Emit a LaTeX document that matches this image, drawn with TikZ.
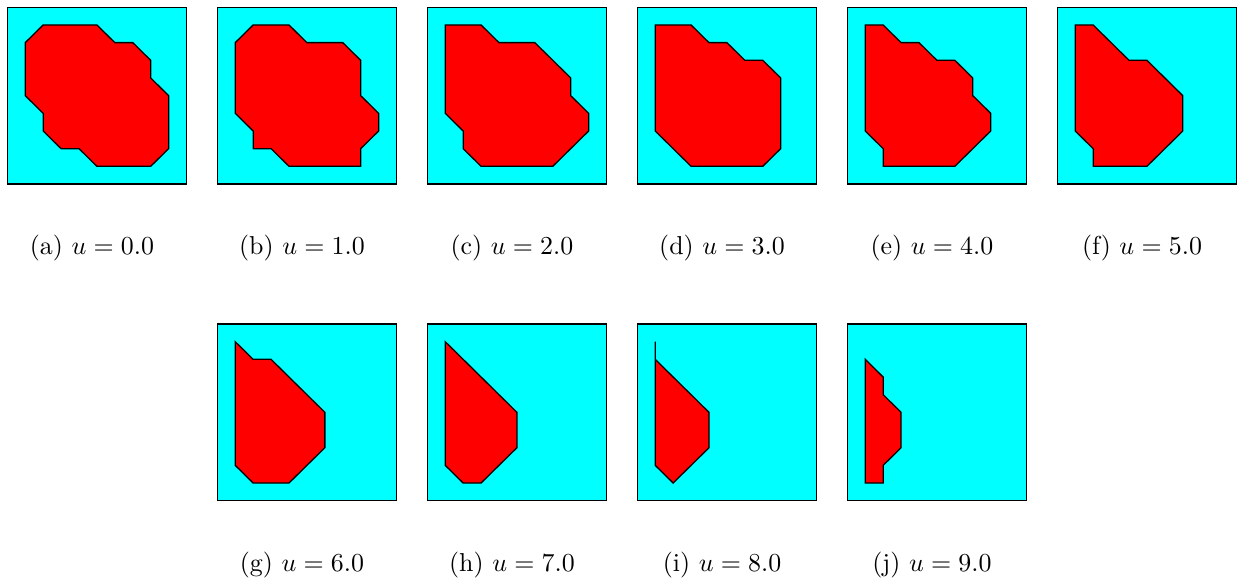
\documentclass[tikz,border=0pt]{standalone}
\usepackage{tikz}
\usetikzlibrary{positioning}
\definecolor{fluidcyan}{RGB}{0,255,255}
\definecolor{solidred}{RGB}{255,0,0}

\begin{document}
\begin{tikzpicture}[
  x=0.386pt, y=-0.386pt,
  domainbox/.style={draw=black, fill=fluidcyan, line width=0.5pt},
  region/.style={draw=black, fill=solidred, line width=0.5pt, line join=miter},
  grid/.style={x=6.92pt, y=-6.82pt},
  caplabel/.style={anchor=base, inner sep=0pt}
]
\useasboundingbox (0,0) rectangle (1241,585);

% first row
\begin{scope}[shift={(7.3,7.3)}, grid]
  \draw[domainbox] (0,0) rectangle (10,10);
  \draw[region] (2,1) -- (5,1) -- (6,2) -- (7,2) -- (8,3) -- (8,4) -- (9,5) -- (9,8)
    -- (8,9) -- (5,9) -- (4,8) -- (3,8) -- (2,7) -- (2,6) -- (1,5) -- (1,2) -- cycle;
\end{scope}
\begin{scope}[shift={(217.3,7.3)}, grid]
  \draw[domainbox] (0,0) rectangle (10,10);
  \draw[region] (2,1) -- (4,1) -- (5,2) -- (7,2) -- (8,3) -- (8,5) -- (9,6) -- (9,7)
    -- (8,8) -- (8,9) -- (4,9) -- (3,8) -- (2,8) -- (2,7) -- (1,6) -- (1,2) -- cycle;
\end{scope}
\begin{scope}[shift={(427.3,7.3)}, grid]
  \draw[domainbox] (0,0) rectangle (10,10);
  \draw[region] (1,1) -- (3,1) -- (4,2) -- (6,2) -- (8,4) -- (8,5) -- (9,6) -- (9,7)
    -- (7,9) -- (3,9) -- (2,8) -- (2,7) -- (1,6) -- cycle;
\end{scope}
\begin{scope}[shift={(637.3,7.3)}, grid]
  \draw[domainbox] (0,0) rectangle (10,10);
  \draw[region] (1,1) -- (3,1) -- (4,2) -- (5,2) -- (6,3) -- (7,3) -- (8,4) -- (8,8)
    -- (7,9) -- (3,9) -- (1,7) -- cycle;
\end{scope}
\begin{scope}[shift={(847.3,7.3)}, grid]
  \draw[domainbox] (0,0) rectangle (10,10);
  \draw[region] (1,1) -- (2,1) -- (3,2) -- (4,2) -- (5,3) -- (6,3) -- (7,4) -- (7,5)
    -- (8,6) -- (8,7) -- (6,9) -- (2,9) -- (2,8) -- (1,7) -- cycle;
\end{scope}
\begin{scope}[shift={(1057.3,7.3)}, grid]
  \draw[domainbox] (0,0) rectangle (10,10);
  \draw[region] (1,1) -- (2,1) -- (4,3) -- (5,3) -- (7,5) -- (7,7) -- (5,9) -- (2,9)
    -- (2,8) -- (1,7) -- cycle;
\end{scope}

% second row
\begin{scope}[shift={(217.3,324)}, grid]
  \draw[domainbox] (0,0) rectangle (10,10);
  \draw[region] (1,1) -- (2,2) -- (3,2) -- (6,5) -- (6,7) -- (4,9) -- (2,9) -- (1,8) -- cycle;
\end{scope}
\begin{scope}[shift={(427.3,324)}, grid]
  \draw[domainbox] (0,0) rectangle (10,10);
  \draw[region] (1,1) -- (5,5) -- (5,7) -- (3,9) -- (2,9) -- (1,8) -- cycle;
\end{scope}
\begin{scope}[shift={(637.3,324)}, grid]
  \draw[domainbox] (0,0) rectangle (10,10);
  \draw[region] (1,1) -- (1,2) -- (4,5) -- (4,7) -- (2,9) -- (1,8) -- (1,2) -- cycle;
\end{scope}
\begin{scope}[shift={(847.3,324)}, grid]
  \draw[domainbox] (0,0) rectangle (10,10);
  \draw[region] (1,2) -- (2,3) -- (2,4) -- (3,5) -- (3,7) -- (2,8) -- (2,9) -- (1,9) -- cycle;
\end{scope}

% captions
\node[caplabel] (capa) at (92,254) {(a) $u=0.0$};
\node[caplabel] (capb) at (302,254) {(b) $u=1.0$};
\node[caplabel] (capc) at (512,254) {(c) $u=2.0$};
\node[caplabel] (capd) at (722,254) {(d) $u=3.0$};
\node[caplabel] (cape) at (932,254) {(e) $u=4.0$};
\node[caplabel] (capf) at (1142,254) {(f) $u=5.0$};
\node[caplabel] (capg) at (302,571) {(g) $u=6.0$};
\node[caplabel] (caph) at (512,571) {(h) $u=7.0$};
\node[caplabel] (capi) at (722,571) {(i) $u=8.0$};
\node[caplabel] (capj) at (932,571) {(j) $u=9.0$};
\end{tikzpicture}
\end{document}
